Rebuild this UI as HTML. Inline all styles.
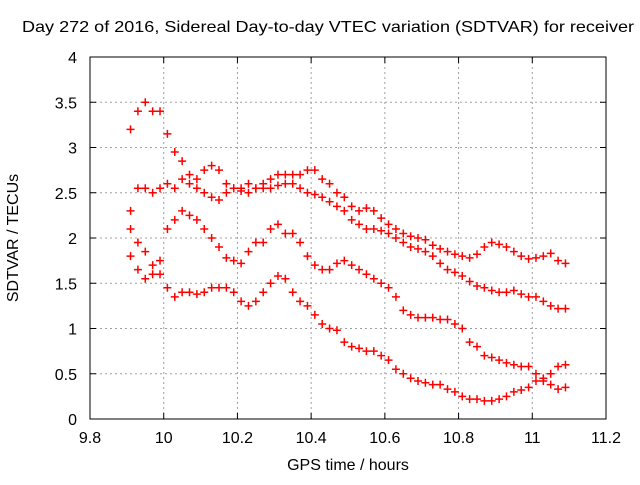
<!DOCTYPE html>
<html><head><meta charset="utf-8"><style>
body{margin:0;background:#fff}
text{font-family:"Liberation Sans",sans-serif;font-size:16px;fill:#000}
</style></head><body>
<svg id="chart" width="640" height="480" xmlns="http://www.w3.org/2000/svg">
<text x="22" y="32" textLength="612" lengthAdjust="spacingAndGlyphs">Day 272 of 2016, Sidereal Day-to-day VTEC variation (SDTVAR) for receiver</text>
<g id="grid"></g>
<g id="axes"></g>
<g id="marks"></g>
<text x="348" y="470" text-anchor="middle">GPS time / hours</text>
<text transform="translate(18,238) rotate(-90)" text-anchor="middle">SDTVAR / TECUs</text>
</svg>
<script>
const xTicks=[9.8,10,10.2,10.4,10.6,10.8,11,11.2];
const xTickLabels=["9.8","10","10.2","10.4","10.6","10.8","11","11.2"];
const yTicks=[0,0.5,1,1.5,2,2.5,3,3.5,4];
const yTickLabels=["0","0.5","1","1.5","2","2.5","3","3.5","4"];
const times=[9.91,9.93,9.95,9.97,9.99,10.01,10.03,10.05,10.07,10.09,10.11,10.13,10.15,10.17,10.19,10.21,10.23,10.25,10.27,10.29,10.31,10.33,10.35,10.37,10.39,10.41,10.43,10.45,10.47,10.49,10.51,10.53,10.55,10.57,10.59,10.61,10.63,10.65,10.67,10.69,10.71,10.73,10.75,10.77,10.79,10.81,10.83,10.85,10.87,10.89,10.91,10.93,10.95,10.97,10.99,11.01,11.03,11.05,11.07,11.09];
const seriesA=[3.2,3.4,3.5,3.4,3.4,3.15,2.95,2.85,2.7,2.65,2.75,2.8,2.75,2.6,2.55,2.55,2.6,2.55,2.6,2.65,2.7,2.7,2.7,2.7,2.75,2.75,2.65,2.6,2.5,2.45,2.35,2.3,2.33,2.3,2.22,2.15,2.1,2.05,2.02,2.0,1.98,1.92,1.88,1.85,1.82,1.8,1.78,1.82,1.9,1.95,1.93,1.9,1.85,1.8,1.77,1.78,1.8,1.83,1.75,1.72];
const seriesB=[2.3,2.55,2.55,2.5,2.55,2.6,2.55,2.65,2.6,2.55,2.5,2.45,2.42,2.5,2.55,2.52,2.5,2.55,2.55,2.55,2.58,2.6,2.6,2.55,2.5,2.48,2.45,2.4,2.35,2.3,2.2,2.15,2.1,2.1,2.08,2.05,2.0,1.95,1.9,1.88,1.85,1.8,1.72,1.65,1.62,1.58,1.52,1.47,1.45,1.42,1.4,1.4,1.42,1.38,1.35,1.35,1.3,1.25,1.22,1.22];
const seriesC=[2.1,1.95,1.85,1.7,1.75,2.1,2.2,2.3,2.25,2.2,2.1,2.0,1.9,1.78,1.75,1.72,1.85,1.95,1.95,2.1,2.15,2.05,2.05,1.95,1.8,1.7,1.65,1.65,1.72,1.75,1.7,1.65,1.6,1.55,1.5,1.45,1.35,1.2,1.15,1.12,1.12,1.12,1.1,1.1,1.05,1.0,0.85,0.8,0.7,0.68,0.65,0.62,0.6,0.58,0.58,0.5,0.45,0.5,0.58,0.6];
const seriesD=[1.8,1.65,1.55,1.6,1.6,1.45,1.35,1.4,1.4,1.38,1.4,1.45,1.45,1.45,1.4,1.3,1.25,1.3,1.4,1.5,1.58,1.55,1.4,1.3,1.25,1.15,1.05,1.0,0.98,0.85,0.8,0.78,0.75,0.75,0.7,0.65,0.55,0.5,0.45,0.42,0.4,0.38,0.38,0.33,0.3,0.25,0.22,0.22,0.2,0.2,0.22,0.25,0.3,0.32,0.35,0.42,0.42,0.38,0.33,0.35];

const L=90,R=606,T=57,B=419;
const xs=t=>L+(t-9.8)/1.4*(R-L);
const ys=v=>B-v/4*(B-T);
const NS="http://www.w3.org/2000/svg";
function mk(tag,attrs,parent){const e=document.createElementNS(NS,tag);for(const k in attrs)e.setAttribute(k,attrs[k]);parent.appendChild(e);return e;}
const grid=document.getElementById('grid'),axes=document.getElementById('axes'),marks=document.getElementById('marks');
xTicks.forEach((t,i)=>{
  const x=xs(t);
  if(i>0&&i<xTicks.length-1){const g=mk('line',{x1:x,x2:x,y1:T,y2:B,stroke:'#a0a0a0','stroke-dasharray':'2,3'},grid);
  
  }
  mk('line',{x1:x,x2:x,y1:B,y2:B-6,stroke:'#000'},axes);
  mk('line',{x1:x,x2:x,y1:T,y2:T+6,stroke:'#000'},axes);
  const lb=mk('text',{x:x,y:B+24,'text-anchor':'middle'},axes);lb.textContent=xTickLabels[i];
  
  
});
yTicks.forEach((v,i)=>{
  const y=ys(v);
  if(i>0&&i<yTicks.length-1){const g=mk('line',{x1:L,x2:R,y1:y,y2:y,stroke:'#a0a0a0','stroke-dasharray':'2,3'},grid);
  
  }
  mk('line',{x1:L,x2:L+6,y1:y,y2:y,stroke:'#000'},axes);
  mk('line',{x1:R,x2:R-6,y1:y,y2:y,stroke:'#000'},axes);
  const lb=mk('text',{x:L-13,y:y+6,'text-anchor':'end'},axes);lb.textContent=yTickLabels[i];
  
  
});
mk('rect',{x:L,y:T,width:R-L,height:B-T,fill:'none',stroke:'#000'},axes);
[seriesA,seriesB,seriesC,seriesD].forEach((s,si)=>{
  s.forEach((v,i)=>{
    const x=xs(times[i]),y=ys(v);
    const p=mk('path',{d:`M${x-4},${y}h8M${x},${y-4}v8`,stroke:'#f00','stroke-width':1.5,fill:'none'},marks);
    
    
  });
});
</script>
</body></html>
